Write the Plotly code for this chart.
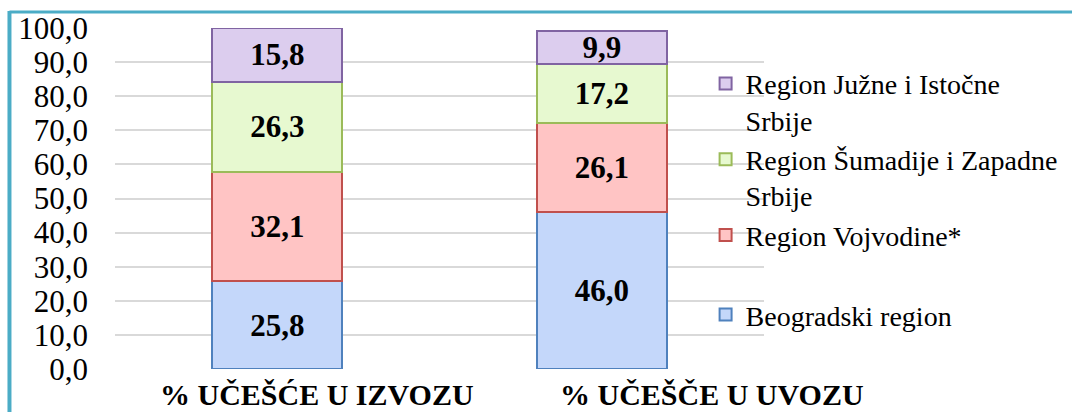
import plotly.graph_objects as go

categories = ["% UČEŠĆE U IZVOZU", "% UČEŠČE U UVOZU"]
series_names = [
    "Beogradski region",
    "Region Vojvodine*",
    "Region Šumadije i Zapadne<br>Srbije",
    "Region Južne i Istočne<br>Srbije",
]
beogradski = [25.8, 46.0]
vojvodina = [32.1, 26.1]
sumadija = [26.3, 17.2]
juzna = [15.8, 9.9]
y_ticks = [0, 10, 20, 30, 40, 50, 60, 70, 80, 90, 100]

series_values = [beogradski, vojvodina, sumadija, juzna]
fills = ["#C4D7FA", "#FFC4C4", "#E7F9D0", "#DCCDEE"]
lines = ["#4F81BD", "#C0504D", "#9BBB59", "#8064A2"]
legends = ["legend2", "legend", "legend", "legend"]

FONT = "Liberation Serif, Times New Roman, serif"

fig = go.Figure()
for name, vals, fc, lc, lg in zip(series_names, series_values, fills, lines, legends):
    fig.add_trace(go.Bar(
        x=categories, y=vals, name=name, legend=lg,
        marker=dict(color=fc, line=dict(color=lc, width=2)),
        texttemplate="%{y:.1f}", textposition="inside", insidetextanchor="middle",
        constraintext="none",
        textfont=dict(family=FONT, size=31, color="black", weight="bold"),
        width=0.4,
    ))

label_shifts = [40, 110]
for cat, sh in zip(categories, label_shifts):
    fig.add_annotation(
        x=cat, xref="x", y=-0.076, yref="paper", yanchor="middle",
        text="<b>" + cat + "</b>", showarrow=False, xshift=sh,
        font=dict(family=FONT, size=30, color="black"),
    )

# frame border (left and top)
fig.add_shape(type="line", xref="paper", yref="paper",
              x0=-0.1626, x1=-0.1626, y0=1.05, y1=-0.2,
              line=dict(color="#4BACC6", width=4))
fig.add_shape(type="line", xref="paper", yref="paper",
              x0=-0.1626, x1=1.5, y0=1.047, y1=1.047,
              line=dict(color="#4BACC6", width=3))

leg_common = dict(
    x=0.91, xanchor="left", yanchor="top",
    font=dict(family=FONT, size=28, color="black"),
    valign="top", itemwidth=30, bgcolor="rgba(0,0,0,0)",
)

fig.update_layout(
    width=1072, height=412,
    barmode="stack",
    separators=",.",
    paper_bgcolor="white", plot_bgcolor="white",
    margin=dict(l=115, r=308, t=28, b=43, autoexpand=False),
    font=dict(family=FONT, color="black"),
    showlegend=True,
    legend=dict(y=0.91, traceorder="reversed", **leg_common),
    legend2=dict(y=0.232, **leg_common),
    xaxis=dict(range=[-0.5, 1.5], showticklabels=False, showgrid=False,
               zeroline=False, showline=False),
    yaxis=dict(range=[0, 100], tickvals=y_ticks, tickformat=".1f",
               showgrid=True, gridcolor="#D9D9D9", gridwidth=2,
               zeroline=False, showline=False, ticks="",
               ticklabelstandoff=26,
               tickfont=dict(family=FONT, size=31, color="black")),
)

fig.write_html("out.html", config={"displayModeBar": False},
               post_script="document.body.style.margin='0px';")
